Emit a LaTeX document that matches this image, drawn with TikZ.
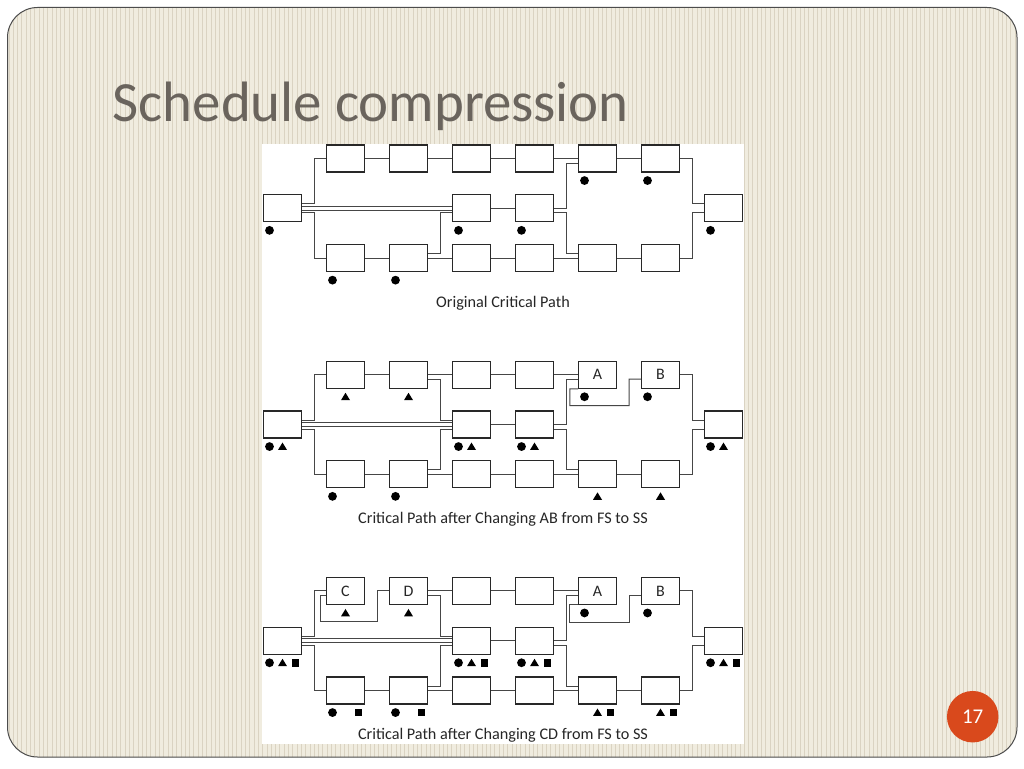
\documentclass[tikz,border=0pt]{standalone}
\usepackage{fontspec}
\setmainfont{Carlito}
\usetikzlibrary{calc}
\definecolor{bg}{RGB}{240,236,223}
\definecolor{stripe}{RGB}{218,211,194}
\definecolor{titlec}{RGB}{106,100,93}
\definecolor{pagec}{RGB}{217,73,28}
\definecolor{boxc}{RGB}{40,40,40}
\definecolor{linec}{RGB}{70,70,70}
\newcommand\mdot[1]{\fill ($(#1.south)+(-13,8)$) circle[radius=4.4pt];}
\newcommand\mtri[1]{\fill ($(#1.south)+(0,8)$) +(0,-4) -- +(4.5,3.4) -- +(-4.5,3.4) -- cycle;}
\newcommand\msq[1]{\fill ($(#1.south)+(13,8)$) +(-3.8,-3.8) rectangle +(3.8,3.8);}
\begin{document}
\begin{tikzpicture}[x=1pt,y=-1pt,
  box/.style={draw=boxc, line width=1.1pt, minimum width=37.5pt, minimum height=27pt, inner sep=0pt},
  lbl/.style={inner sep=0pt, font=\fontsize{16}{18}\selectfont, text=black!85},
  conn/.style={draw=linec, line width=1pt},
  captext/.style={inner sep=0pt, font=\fontsize{16.2}{18}\selectfont, text=black!85}]
\useasboundingbox (0,0) rectangle (1024,768);
\fill[white] (0,0) rectangle (1024,768);
\begin{scope}
  \clip[rounded corners=30pt] (7.5,7.5) rectangle (1017,757);
  \fill[bg] (0,0) rectangle (1024,768);
  \foreach \x in {9,13.3,...,1016} \draw[stripe, line width=0.9pt] (\x,0) -- (\x,768);
\end{scope}
\draw[rounded corners=30pt, draw=black!70, line width=1pt] (7.5,7.5) rectangle (1017,757);
\node[anchor=base west, text=titlec, font=\fontsize{56.9}{60}\selectfont, inner sep=0pt] (title) at (112.5,121) {Schedule compression};
\fill[white] (262,144) rectangle (743.5,744);
% page number
\node[circle, fill=pagec, minimum size=51.5pt, inner sep=0pt, text=white, font=\fontsize{21}{22}\selectfont] (page) at (972.7,716.7) {17};
% boxes
\foreach \k/\yb in {a/158.5, b/374.7, c/590.9} {
  \node[box] (\k-s) at (282.5,\yb+49.8) {};
  \node[box] (\k-e) at (723.5,\yb+49.8) {};
  \foreach \i in {1,...,6} {
    \node[box] (\k-t\i) at (282.5+63*\i,\yb) {};
    \node[box] (\k-b\i) at (282.5+63*\i,\yb+99.6) {};
  }
  \node[box] (\k-m3) at (471.5,\yb+49.8) {};
  \node[box] (\k-m4) at (534.5,\yb+49.8) {};
  % common connectors
  \draw[conn] ($(\k-s.east)+(0,-4.5)$) -- ++(13,0) |- (\k-t1.west);
  \draw[conn] ($(\k-s.east)+(0,-2)$) -- ($(\k-m3.west)+(0,-2)$);
  \draw[conn] ($(\k-s.east)+(0,2)$) -- ($(\k-m3.west)+(0,2)$);
  \draw[conn] ($(\k-s.east)+(0,4.5)$) -- ++(13,0) |- (\k-b1.west);
  \draw[conn] (\k-t2.east) -- (\k-t3.west);
  \draw[conn] (\k-t3.east) -- (\k-t4.west);
  \draw[conn] (\k-t4.east) -- (\k-t5.west);
  \draw[conn] (\k-m3.east) -- (\k-m4.west);
  \draw[conn] (\k-m4.east) -- ++(13,0) |- ($(\k-t5.west)+(0,4.5)$);
  \draw[conn] ($(\k-m4.east)+(0,4.5)$) -- ++(13,0) |- ($(\k-b5.west)+(0,-4.5)$);
  \draw[conn] (\k-b1.east) -- (\k-b2.west);
  \draw[conn] (\k-b2.east) -- (\k-b3.west);
  \draw[conn] (\k-b3.east) -- (\k-b4.west);
  \draw[conn] (\k-b4.east) -- (\k-b5.west);
  \draw[conn] (\k-b5.east) -- (\k-b6.west);
  \draw[conn] ($(\k-b2.east)+(0,-4.5)$) -- ++(13,0) |- ($(\k-m3.west)+(0,4.5)$);
  \draw[conn] (\k-t6.east) -- ++(13,0) |- ($(\k-e.west)+(0,-4.5)$);
  \draw[conn] (\k-b6.east) -- ++(13,0) |- ($(\k-e.west)+(0,4.5)$);
}
% captions
\node[captext] (a-cap) at (503,303.1) {Original Critical Path};
\node[captext] (b-cap) at (503,519.3) {Critical Path after Changing AB from FS to SS};
\node[captext] (c-cap) at (503,735.5) {Critical Path after Changing CD from FS to SS};
% labels
\node[lbl] (b-A) at (b-t5) {A};
\node[lbl] (b-B) at (b-t6) {B};
\node[lbl] (c-A) at (c-t5) {A};
\node[lbl] (c-B) at (c-t6) {B};
\node[lbl] (c-C) at (c-t1) {C};
\node[lbl] (c-D) at (c-t2) {D};
% diagram-specific connectors
\draw[conn] (a-t1.east) -- (a-t2.west);
\draw[conn] (a-t5.east) -- (a-t6.west);
\draw[conn] (b-t1.east) -- (b-t2.west);
\draw[conn] ($(b-t2.east)+(0,4.5)$) -- ++(13,0) |- ($(b-m3.west)+(0,-4.5)$);
\draw[conn] ($(c-t2.east)+(0,4.5)$) -- ++(13,0) |- ($(c-m3.west)+(0,-4.5)$);
\draw[conn] (b-t5.south west) -- ++(-8.3,0) -- ++(0,16.8) -| ($($(b-t5.east)!0.5!(b-t6.west)$)+(0,4.5)$) -- ($(b-t6.west)+(0,4.5)$);
\draw[conn] (c-t5.south west) -- ++(-8.3,0) -- ++(0,17.2) -| ($($(c-t5.east)!0.5!(c-t6.west)$)+(0,4.5)$) -- ($(c-t6.west)+(0,4.5)$);
\draw[conn] ($(c-t1.west)+(0,5)$) -- ++(-5.6,0) -- ++(0,25.5) -| ($(c-t1.east)!0.5!(c-t2.west)$) -- (c-t2.west);
% marks: top
\foreach \n in {a-s,a-t5,a-t6,a-m3,a-m4,a-e,a-b1,a-b2} {\mdot{\n}}
% marks: middle
\foreach \n in {b-s,b-t5,b-t6,b-m3,b-m4,b-e,b-b1,b-b2} {\mdot{\n}}
\foreach \n in {b-s,b-t1,b-t2,b-m3,b-m4,b-e,b-b5,b-b6} {\mtri{\n}}
% marks: bottom
\foreach \n in {c-s,c-t5,c-t6,c-m3,c-m4,c-e,c-b1,c-b2} {\mdot{\n}}
\foreach \n in {c-s,c-t1,c-t2,c-m3,c-m4,c-e,c-b5,c-b6} {\mtri{\n}}
\foreach \n in {c-s,c-m3,c-m4,c-e,c-b1,c-b2,c-b5,c-b6} {\msq{\n}}
\end{tikzpicture}
\end{document}
